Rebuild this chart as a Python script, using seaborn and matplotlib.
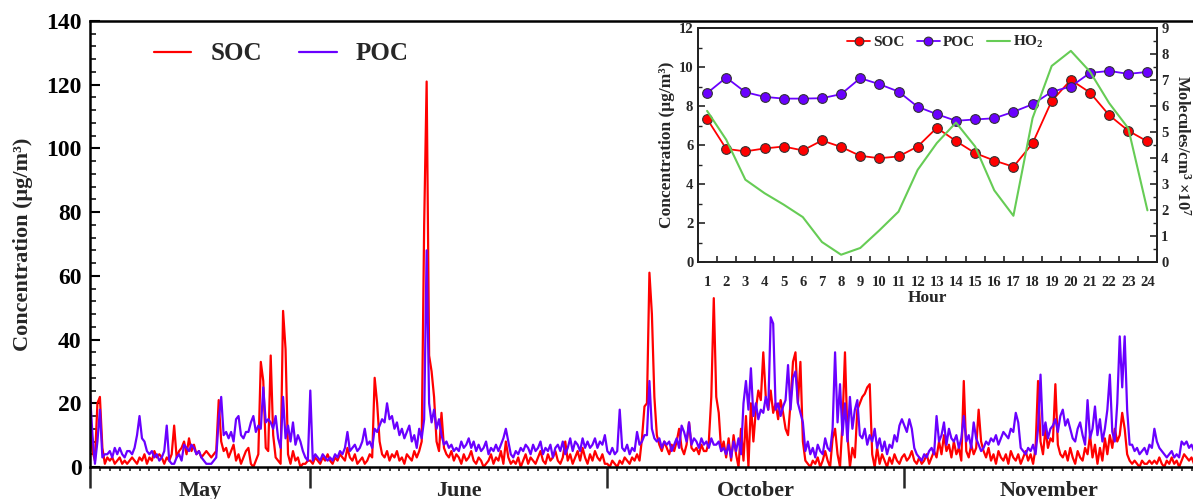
import numpy as np
import pandas as pd
import matplotlib
matplotlib.use("Agg")
import matplotlib.pyplot as plt
import matplotlib.transforms as mtransforms
from matplotlib.ticker import MultipleLocator, FixedLocator, NullFormatter
import seaborn as sns

sns.set_theme(style="ticks")
plt.rcParams['font.family'] = ['Liberation Serif', 'DejaVu Serif']
plt.rcParams['font.weight'] = 'bold'
plt.rcParams['axes.labelweight'] = 'bold'
plt.rcParams['mathtext.fontset'] = 'custom'
plt.rcParams['mathtext.rm'] = 'Liberation Serif:bold'
plt.rcParams['mathtext.bf'] = 'Liberation Serif:bold'
plt.rcParams['mathtext.it'] = 'Liberation Serif:bold:italic'

SOC_COLOR = '#ff0000'
POC_COLOR = '#6a00ff'
HO2_COLOR = '#66cc55'

STEP = 0.25  # days between samples (6-hourly reading of the record)
months = ['May', 'June', 'October', 'November']

# ---- time series (ug/m3), one value per 6 h ----
may_soc = [13, 5, 2, 20, 22, 6, 1, 3, 2, 3, 1, 2, 3, 1, 2, 1, 2, 3, 2, 1,
           3, 2, 4, 1, 3, 2, 5, 3, 4, 3, 1, 3, 2, 4, 13, 3, 5, 6, 8, 4,
           9, 5, 7, 4, 5, 3, 4, 5, 4, 3, 4, 5, 21, 8, 5, 6, 3, 5, 7, 2,
           4, 1, 3, 5, 6, 1, 0, 2, 4, 33, 27, 6, 5, 35, 10, 3, 2, 1, 49, 37,
           4, 1, 5, 2, 3, 0, 1, 1, 2]
may_poc = [23, 10, 1, 8, 18, 3, 4, 4, 5, 3, 6, 4, 6, 4, 3, 5, 5, 4, 6, 10,
           16, 9, 8, 5, 4, 5, 3, 4, 2, 3, 5, 13, 2, 1, 1, 3, 4, 2, 7, 6,
           5, 7, 6, 4, 5, 3, 2, 1, 1, 1, 2, 3, 15, 22, 10, 11, 9, 11, 8, 15,
           16, 10, 9, 11, 11, 14, 16, 11, 13, 12, 25, 14, 15, 14, 12, 16, 9, 6, 22, 9,
           13, 8, 14, 7, 10, 8, 5, 3, 2]

jun_soc = [2, 1, 3, 2, 1, 3, 2, 4, 2, 1, 3, 2, 4, 3, 2, 6, 3, 2, 4, 1,
           2, 3, 1, 2, 4, 3, 28, 20, 8, 4, 3, 5, 2, 4, 3, 5, 2, 3, 1, 4,
           3, 2, 5, 3, 5, 8, 76, 121, 35, 30, 22, 8, 5, 17, 6, 4, 3, 5, 2, 4,
           3, 1, 4, 2, 3, 5, 2, 1, 3, 2, 0, 1, 2, 4, 1, 3, 2, 5, 1, 8,
           3, 1, 2, 1, 3, 0, 2, 4, 1, 3, 2, 1, 3, 5, 2, 1, 4, 2, 3, 5,
           2, 1, 3, 8, 2, 4, 1, 3, 5, 2, 6, 3, 1, 4, 2, 5, 3, 2, 4, 1]
jun_poc = [24, 2, 4, 3, 2, 4, 3, 2, 3, 2, 4, 3, 5, 4, 6, 11, 5, 6, 7, 5,
           6, 8, 12, 7, 8, 6, 12, 11, 13, 15, 14, 20, 15, 16, 12, 14, 10, 12, 9, 11,
           13, 8, 10, 6, 12, 9, 15, 68, 20, 14, 18, 12, 15, 10, 7, 8, 6, 7, 5, 6,
           5, 8, 6, 7, 9, 6, 8, 5, 7, 5, 6, 8, 4, 6, 5, 7, 5, 7, 9, 12,
           8, 4, 3, 5, 4, 6, 5, 7, 6, 4, 7, 5, 6, 8, 4, 6, 5, 7, 3, 6,
           7, 5, 8, 4, 6, 9, 5, 8, 7, 5, 9, 6, 8, 6, 7, 9, 6, 8, 7, 10]

oct_soc = [1, 0, 2, 1, 0, 2, 1, 3, 2, 1, 3, 2, 4, 2, 9, 19, 20, 61, 48, 22,
           10, 7, 5, 8, 6, 4, 7, 5, 8, 12, 6, 4, 7, 14, 6, 5, 6, 4, 7, 5,
           5, 8, 22, 53, 22, 17, 5, 8, 3, 9, 2, 10, 4, 0, 12, 2, 16, 0, 20, 8,
           18, 24, 21, 36, 22, 18, 24, 17, 20, 15, 21, 17, 12, 10, 20, 33, 36, 20, 33, 8,
           2, 1, 0, 2, 1, 3, 0, 2, 5, 2, 0, 9, 12, 4, 0, 14, 36, 10, 0, 6,
           3, 18, 20, 22, 23, 25, 26, 4, 0, 6, 1, 4, 2, 0, 3, 1, 4, 2, 1, 3]
oct_poc = [5, 4, 6, 4, 5, 18, 6, 5, 7, 4, 6, 5, 11, 7, 8, 10, 10, 27, 12, 9,
           8, 9, 6, 8, 7, 8, 5, 7, 9, 6, 13, 11, 8, 14, 7, 9, 8, 6, 9, 7,
           8, 6, 9, 7, 7, 8, 5, 6, 4, 7, 3, 8, 5, 9, 4, 20, 27, 18, 31, 16,
           20, 15, 18, 17, 22, 18, 47, 45, 18, 20, 16, 19, 21, 32, 18, 28, 30, 20, 17, 14,
           5, 8, 4, 6, 3, 7, 5, 4, 9, 6, 5, 12, 36, 14, 26, 10, 20, 8, 22, 12,
           18, 21, 10, 9, 12, 7, 10, 8, 12, 6, 9, 5, 8, 4, 7, 6, 10, 8, 13, 15]

nov_soc = [4, 2, 3, 5, 2, 1, 3, 1, 2, 4, 1, 3, 5, 3, 8, 4, 10, 5, 7, 3,
           8, 4, 6, 2, 27, 5, 3, 7, 4, 6, 18, 8, 5, 3, 6, 2, 4, 1, 5, 3,
           2, 4, 1, 5, 3, 2, 4, 1, 3, 5, 2, 4, 1, 6, 27, 8, 4, 12, 6, 9,
           8, 26, 7, 4, 3, 5, 2, 6, 3, 1, 5, 3, 2, 6, 4, 10, 3, 7, 1, 6,
           2, 9, 4, 10, 6, 12, 8, 10, 17, 12, 4, 2, 1, 2, 1, 0, 2, 1, 1, 2,
           1, 2, 1, 3, 1, 0, 2, 1, 3, 1, 2, 0, 2, 4, 3, 2, 3, 1]
nov_poc = [13, 11, 15, 12, 6, 4, 3, 2, 4, 3, 5, 6, 4, 16, 8, 10, 14, 7, 12, 9,
           8, 10, 6, 9, 16, 8, 10, 6, 14, 9, 7, 5, 6, 8, 7, 9, 8, 10, 7, 9,
           11, 10, 9, 12, 11, 17, 14, 6, 5, 4, 6, 5, 7, 4, 12, 29, 10, 14, 9, 12,
           13, 15, 11, 16, 18, 13, 15, 12, 9, 8, 12, 14, 10, 7, 21, 9, 12, 19, 10, 15,
           8, 12, 18, 29, 11, 8, 20, 41, 25, 41, 18, 7, 7, 5, 6, 4, 5, 6, 4, 7,
           6, 12, 8, 6, 5, 4, 3, 4, 5, 3, 4, 3, 8, 7, 8, 6, 7, 5]

# ---- diurnal profile (inset) ----
hours = list(range(1, 25))
soc_hr = [7.35, 5.81, 5.68, 5.83, 5.93, 5.73, 6.24, 5.91, 5.45, 5.33, 5.42, 5.93,
          6.89, 6.21, 5.59, 5.21, 4.89, 6.09, 8.27, 9.35, 8.70, 7.54, 6.74, 6.19]
poc_hr = [8.67, 9.47, 8.72, 8.48, 8.39, 8.39, 8.41, 8.62, 9.44, 9.13, 8.75, 7.97,
          7.59, 7.25, 7.32, 7.38, 7.71, 8.10, 8.74, 9.01, 9.71, 9.81, 9.66, 9.76]
ho2_hr = [5.82, 4.71, 3.17, 2.65, 2.21, 1.73, 0.77, 0.28, 0.54, 1.22, 1.94, 3.55,
          4.58, 5.37, 4.45, 2.76, 1.78, 5.54, 7.55, 8.13, 7.33, 6.12, 5.15, 1.99]

soc = may_soc + jun_soc + oct_soc + nov_soc
poc = may_poc + jun_poc + oct_poc + nov_poc
day = np.arange(len(soc)) * STEP
seg_len = [len(may_soc), len(jun_soc), len(oct_soc), len(nov_soc)]
bounds = np.concatenate([[0], np.cumsum(seg_len) * STEP])
x_end = 111.4

df = pd.DataFrame({'day': np.concatenate([day, day]),
                   'conc': soc + poc,
                   'species': ['SOC'] * len(soc) + ['POC'] * len(poc)})

fig = plt.figure(figsize=(11.93, 4.99), dpi=100)
ax = fig.add_axes([90 / 1193, 1 - 467 / 499, 1103 / 1193, 446 / 499])

sns.lineplot(data=df, x='day', y='conc', hue='species', hue_order=['SOC', 'POC'],
             palette={'SOC': SOC_COLOR, 'POC': POC_COLOR}, lw=1.6, ax=ax)

ax.set_xlim(0, x_end)
ax.set_ylim(0, 140)
ax.yaxis.set_major_locator(MultipleLocator(20))
ax.yaxis.set_minor_locator(MultipleLocator(4))
ax.xaxis.set_major_locator(FixedLocator(bounds[:-1]))
minor_days = np.concatenate([np.arange(bounds[i], bounds[i + 1], 1.0) for i in range(4)])
ax.xaxis.set_minor_locator(FixedLocator(minor_days))
ax.xaxis.set_major_formatter(NullFormatter())
ax.tick_params(axis='y', which='major', direction='in', length=7, width=1.5,
               labelsize=17, pad=6, colors='black')
ax.tick_params(axis='y', which='minor', direction='in', length=4, width=1.3)
ax.tick_params(axis='x', which='major', direction='out', length=15, width=1.8)
ax.tick_params(axis='x', which='minor', direction='out', length=3, width=1.2)
for lab in ax.get_yticklabels():
    lab.set_fontweight('bold')
for side in ['left', 'top', 'bottom']:
    ax.spines[side].set_linewidth(1.8)
    ax.spines[side].set_color('black')
ax.spines['right'].set_visible(False)
ax.set_xlabel('')
ax.set_ylabel('Concentration (μg/m³)', fontsize=16, fontweight='bold')
ax.yaxis.set_label_coords(-0.052, 0.5)

trans = mtransforms.blended_transform_factory(ax.transData, ax.transAxes)
right_edges = list(bounds[1:4]) + [x_end]
for i, name in enumerate(months):
    mid = (bounds[i] + right_edges[i]) / 2
    ax.text(mid, -0.054, name, transform=trans, ha='center', va='center',
            fontsize=16, fontweight='bold')

handles, labels = ax.get_legend_handles_labels()
ax.legend(handles, labels, loc='upper left', bbox_to_anchor=(0.058, 0.952), ncol=2,
          frameon=False, fontsize=18, handlelength=1.5, handletextpad=0.75,
          columnspacing=1.5, borderpad=0, borderaxespad=0)

# ---- inset: diurnal variation ----
axi = fig.add_axes([697.5 / 1193, 1 - 262 / 499, 459.5 / 1193, 233.7 / 499])
axi.set_facecolor('white')
sns.lineplot(x=hours, y=soc_hr, color=SOC_COLOR, marker='o', markersize=7,
             markeredgecolor='#333333', markeredgewidth=0.8, lw=1.3, ax=axi, label='SOC')
sns.lineplot(x=hours, y=poc_hr, color=POC_COLOR, marker='o', markersize=7,
             markeredgecolor='#333333', markeredgewidth=0.8, lw=1.3, ax=axi, label='POC')
ax2 = axi.twinx()
sns.lineplot(x=hours, y=ho2_hr, color=HO2_COLOR, lw=1.5, ax=ax2, label='HO$_2$')

axi.set_xlim(0.5, 24.5)
axi.set_ylim(0, 12)
ax2.set_ylim(0, 9)
axi.set_xticks(hours)
axi.xaxis.set_minor_locator(FixedLocator(np.arange(1.5, 24, 1)))
axi.yaxis.set_major_locator(MultipleLocator(2))
axi.yaxis.set_minor_locator(MultipleLocator(1))
ax2.yaxis.set_major_locator(MultipleLocator(1))
ax2.yaxis.set_minor_locator(MultipleLocator(0.5))
axi.tick_params(axis='x', which='major', length=0, labelsize=10.5, pad=10)
axi.tick_params(axis='x', which='minor', direction='in', length=4, width=1.2)
axi.tick_params(axis='y', which='major', direction='in', length=5, width=1.2, labelsize=10.5, pad=3)
axi.tick_params(axis='y', which='minor', direction='in', length=3, width=1.0)
ax2.tick_params(axis='y', which='major', direction='in', length=5, width=1.2, labelsize=10.5, pad=3)
ax2.tick_params(axis='y', which='minor', direction='in', length=3, width=1.0)
for lab in axi.get_xticklabels() + axi.get_yticklabels() + ax2.get_yticklabels():
    lab.set_fontweight('bold')
for a in (axi, ax2):
    for s in a.spines.values():
        s.set_linewidth(1.3)
        s.set_color('#222222')

axi.set_xlabel('Hour', fontsize=12.5, fontweight='bold', labelpad=1)
axi.set_ylabel('Concentration (μg/m³)', fontsize=12.5, fontweight='bold')
axi.yaxis.set_label_coords(-0.05, 0.5)
ax2.set_ylabel('Molecules/cm$^3$ ×10$^7$', fontsize=12, fontweight='bold', rotation=270)
ax2.yaxis.set_label_coords(1.036, 0.5)
ax2.yaxis.label.set_va('bottom')

h1, l1 = axi.get_legend_handles_labels()
h2, l2 = ax2.get_legend_handles_labels()
axi.get_legend().remove()
ax2.legend(h1 + h2, l1 + l2, loc='upper center', bbox_to_anchor=(0.54, 0.975), ncol=3,
           frameon=False, fontsize=11, handlelength=1.5, handletextpad=0.2,
           columnspacing=0.8, borderpad=0, borderaxespad=0, markerscale=0.9)

fig.savefig('out.png', dpi=100)
